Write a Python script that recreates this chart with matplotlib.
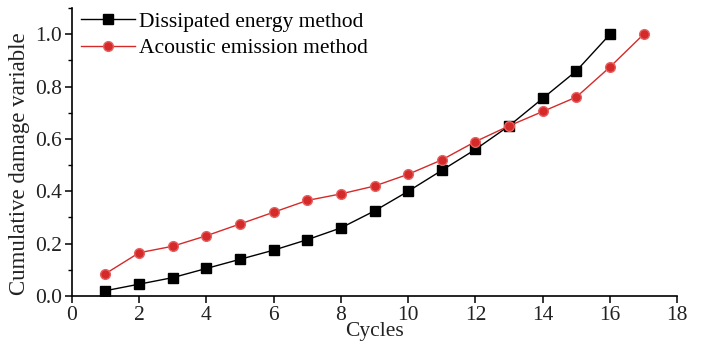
import matplotlib
matplotlib.use("Agg")
import matplotlib.pyplot as plt
from matplotlib.ticker import MultipleLocator

plt.rcParams['font.family'] = ['Liberation Serif', 'DejaVu Serif']
plt.rcParams['mathtext.fontset'] = 'stix'

cycles_de = list(range(1, 17))
dissipated = [0.02, 0.045, 0.07, 0.105, 0.14, 0.175, 0.215, 0.26, 0.325, 0.40, 0.48, 0.56, 0.65, 0.755, 0.86, 1.0]
cycles_ae = list(range(1, 18))
acoustic = [0.085, 0.165, 0.19, 0.23, 0.275, 0.32, 0.365, 0.39, 0.42, 0.465, 0.52, 0.59, 0.65, 0.705, 0.76, 0.875, 1.0]

fig = plt.figure(figsize=(7.04, 3.54), dpi=100)
ax = fig.add_axes([0.102, 0.164, 0.860, 0.813])

ax.plot(cycles_de, dissipated, '-s', color='black', lw=1.0, ms=7, label='Dissipated energy method')
ax.plot(cycles_ae, acoustic, '-o', color='#d42a2a', mfc='#d42a2a', mec='#e86060', lw=1.0, ms=7,
        label='Acoustic emission method')

ax.set_xlim(0, 18)
ax.set_ylim(0, 1.1)
ax.set_xticks([0, 2, 4, 6, 8, 10, 12, 14, 16, 18])
ax.set_yticks([0.0, 0.2, 0.4, 0.6, 0.8, 1.0])
ax.set_yticklabels(['0.0', '0.2', '0.4', '0.6', '0.8', '1.0'])
ax.yaxis.set_minor_locator(MultipleLocator(0.1))
for s in ['top', 'right']:
    ax.spines[s].set_visible(False)
for s in ['left', 'bottom']:
    ax.spines[s].set_linewidth(1.2)
ax.tick_params(axis='both', which='major', direction='out', length=5, width=1.1, labelsize=15.5, pad=2,
               labelcolor='#222222')
ax.tick_params(axis='y', which='minor', direction='out', length=3, width=1.0)
ax.set_xlabel('Cycles', fontsize=15.5, labelpad=-2, color='#222222')
ax.set_ylabel('Cumulative damage variable', fontsize=16.5, color='#222222')
ax.yaxis.set_label_coords(-0.069, 0.46)

ax.legend(loc='upper left', bbox_to_anchor=(-0.01, 1.04), frameon=False, fontsize=15.5,
          handlelength=2.5, handletextpad=0.2, labelspacing=0.3, borderaxespad=0.3)

fig.savefig('out.png', dpi=100)
